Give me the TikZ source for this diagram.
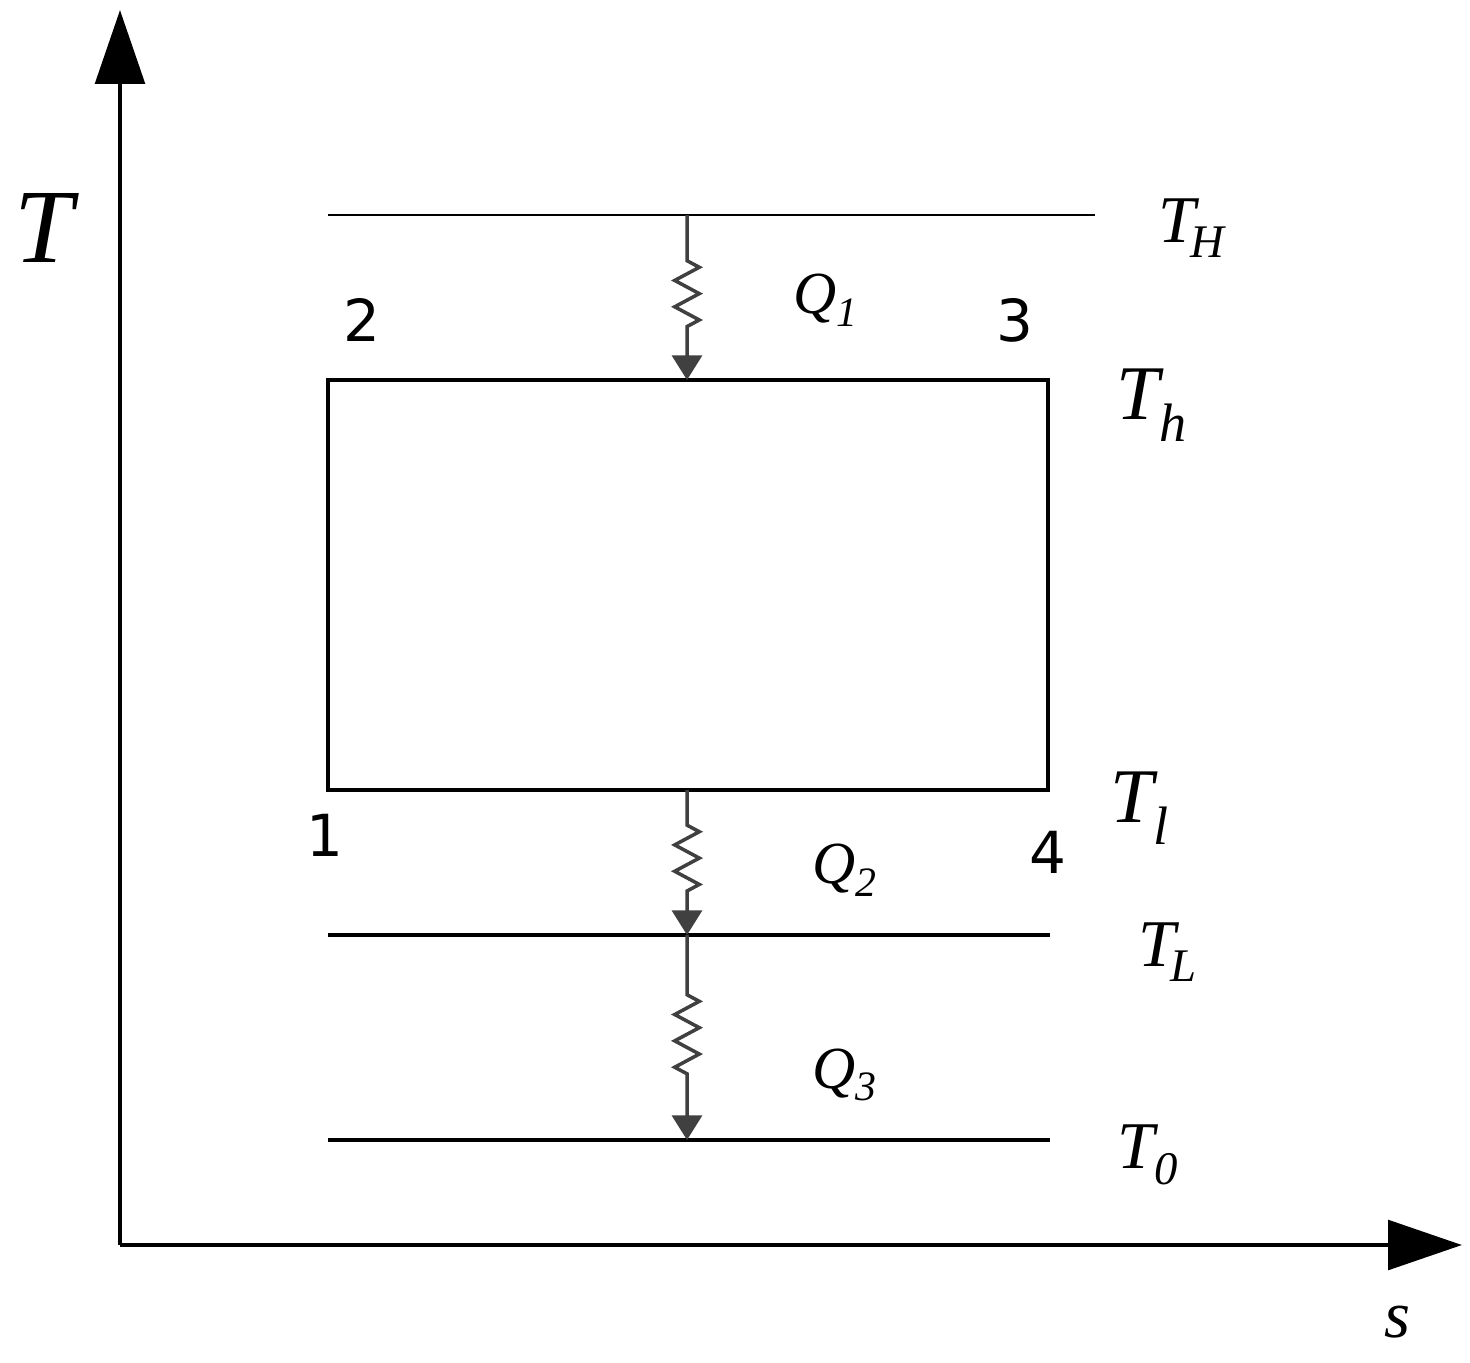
\documentclass[tikz,border=0pt]{standalone}
\usepackage{fontspec}
\setmainfont{Liberation Serif}
\newfontfamily\numfont{DejaVu Sans}
\usetikzlibrary{arrows.meta,decorations.pathmorphing}
\begin{document}
\begin{tikzpicture}[x=0.02cm,y=-0.02cm,
  ax/.style={line width=2.8pt,-{Triangle[length=42pt,width=28pt]}},
  lvl/.style={line width=2pt},
  heat/.style={line width=2pt,draw=black!75,-{Triangle[length=14pt,width=17pt]},decorate,
    decoration={zigzag,segment length=15pt,amplitude=7pt,pre length=#1,post length=#1}},
  lab/.style={font=\fontsize{38}{40}\selectfont\itshape,inner sep=0pt},
  big/.style={font=\fontsize{44}{46}\selectfont\itshape,inner sep=0pt},
  num/.style={font=\numfont\fontsize{33}{36}\selectfont,inner sep=0pt}]
\useasboundingbox (0,0) rectangle (1470,1362);
\coordinate (O) at (120,1245);
\coordinate (Ytop) at (120,10);
\coordinate (Xend) at (1462,1245);
\draw[ax] (O) -- (Ytop);
\draw[ax] (O) -- (Xend);
\coordinate (H1) at (328,215); \coordinate (H2) at (1095,215);
\draw[line width=1.7pt] (H1) -- (H2);
\coordinate (R1) at (328,790); \coordinate (R2) at (328,380);
\coordinate (R3) at (1048,380); \coordinate (R4) at (1048,790);
\draw[line width=2.4pt] (R1) -- (R2) -- (R3) -- (R4) -- cycle;
\coordinate (L1) at (328,935); \coordinate (L2) at (1050,935);
\draw[lvl] (L1) -- (L2);
\coordinate (Z1) at (328,1140); \coordinate (Z2) at (1050,1140);
\draw[lvl] (Z1) -- (Z2);
\coordinate (a1) at (687,215); \coordinate (b1) at (687,380);
\coordinate (a2) at (687,790); \coordinate (b2) at (687,935);
\coordinate (a3) at (687,935); \coordinate (b3) at (687,1140);
\draw[heat=26pt] (a1) -- (b1);
\draw[heat=20pt] (a2) -- (b2);
\draw[heat=34pt] (a3) -- (b3);
\node[lab,font=\fontsize{60}{62}\selectfont\itshape] (T) at (44,228) {T};
\node[lab] (s) at (1397,1322) {s};
\node[lab] (TH) at (1192,228) {T\textsubscript{\kern-0.1em H}};
\node[big] (Th) at (1152,405) {T\textsubscript{h}};
\node[big] (Tl) at (1140,808) {T\textsubscript{l}};
\node[lab] (TL) at (1168,952) {T\textsubscript{\kern-0.1em L}};
\node[lab] (T0) at (1148,1155) {T\textsubscript{0}};
\node[lab,font=\fontsize{34}{36}\selectfont\itshape] (Q1) at (826,300) {Q\textsubscript{1}};
\node[lab,font=\fontsize{34}{36}\selectfont\itshape] (Q2) at (845,870) {Q\textsubscript{2}};
\node[lab,font=\fontsize{34}{36}\selectfont\itshape] (Q3) at (845,1075) {Q\textsubscript{3}};
\node[num] (n2) at (362,320) {2};
\node[num] (n3) at (1015,320) {3};
\node[num] (n1) at (325,835) {1};
\node[num] (n4) at (1048,852) {4};
\end{tikzpicture}
\end{document}
